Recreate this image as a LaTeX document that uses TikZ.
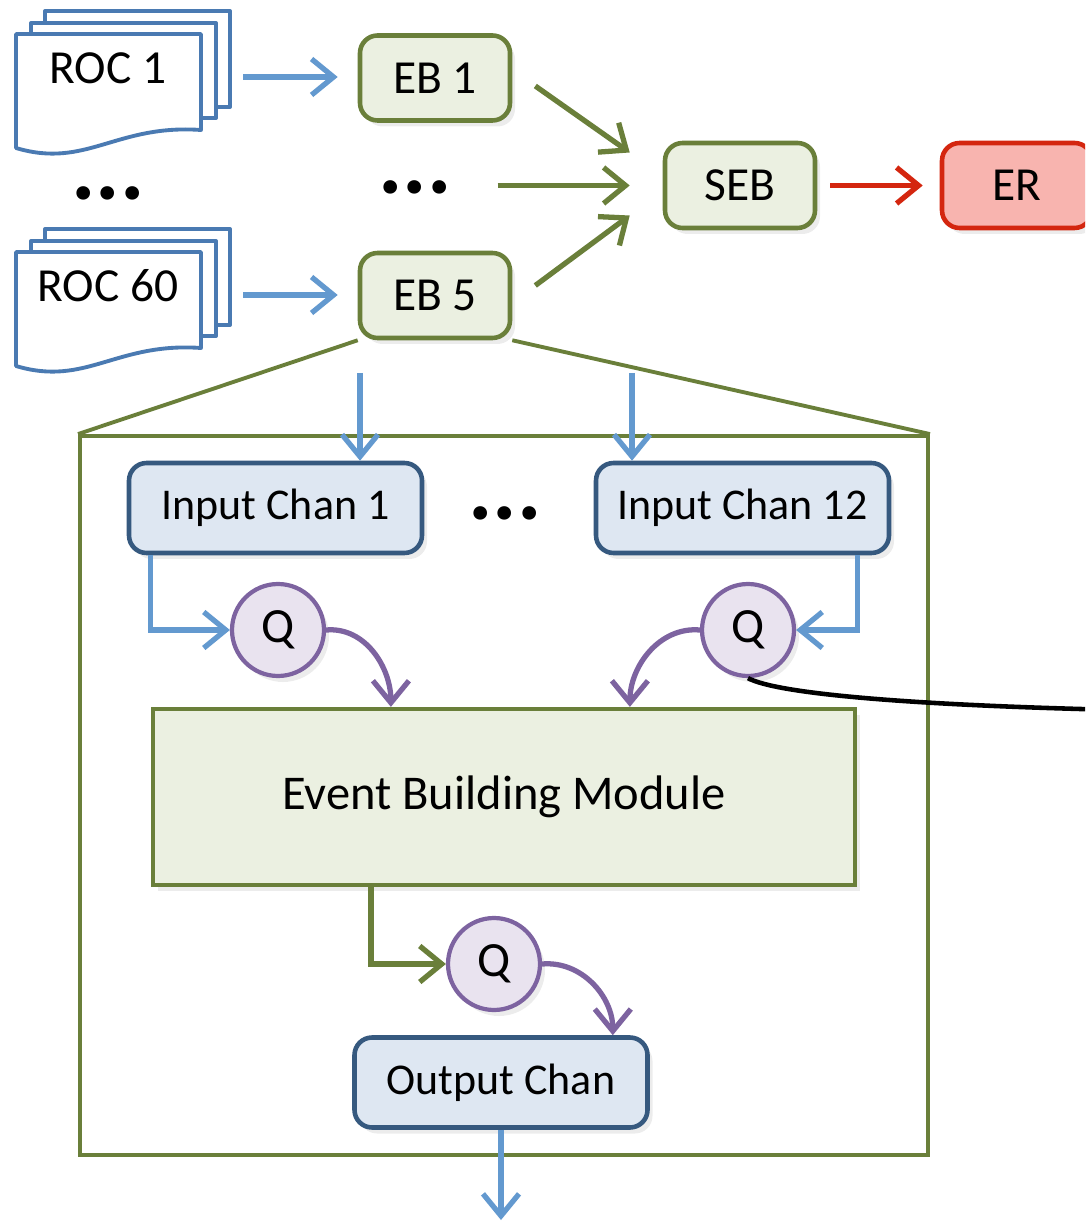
\documentclass[tikz,border=0pt]{standalone}
\usepackage{fontspec}
\setmainfont{Carlito}
\usepackage{tikz}
\usetikzlibrary{arrows.meta, positioning, calc, shadows}

\definecolor{rocblue}{HTML}{4A7AB2}
\definecolor{arrblue}{HTML}{6399CF}
\definecolor{ebgreen}{HTML}{6A7F3A}
\definecolor{ebfill}{HTML}{EBF0E1}
\definecolor{chanblue}{HTML}{36597F}
\definecolor{chanfill}{HTML}{DEE7F2}
\definecolor{qpurple}{HTML}{7D63A0}
\definecolor{qfill}{HTML}{E9E3EF}
\definecolor{erred}{HTML}{D4260F}
\definecolor{erfill}{HTML}{F8B4AF}

\tikzset{
  softshadow/.style={drop shadow={shadow xshift=0.5mm, shadow yshift=-0.6mm, opacity=0.15}},
  rocpage/.style={draw=rocblue, fill=white, line width=1.1pt, line join=round},
  roclabel/.style={font=\fontsize{13.5}{15}\selectfont},
  ebbox/.style={draw=ebgreen, fill=ebfill, line width=1.3pt, rounded corners=5pt,
    minimum width=1.5cm, minimum height=0.85cm, font=\fontsize{13.5}{15}\selectfont, softshadow},
  erbox/.style={ebbox, draw=erred, fill=erfill},
  chanbox/.style={draw=chanblue, fill=chanfill, line width=1.3pt, rounded corners=5pt,
    minimum width=2.93cm, minimum height=0.90cm, font=\fontsize{12.5}{14}\selectfont, softshadow},
  ebmbox/.style={draw=ebgreen, fill=ebfill, line width=1.2pt,
    minimum width=7.02cm, minimum height=1.76cm, font=\fontsize{13.8}{16}\selectfont, softshadow},
  queue/.style={circle, draw=qpurple, fill=qfill, line width=1.2pt, minimum size=0.92cm,
    inner sep=0pt, font=\fontsize{14}{15}\selectfont, softshadow},
  ebframebox/.style={draw=ebgreen, line width=1.1pt, minimum width=8.48cm, minimum height=7.19cm, inner sep=0pt},
  ebline/.style={draw=ebgreen, line width=1.1pt},
  dotstext/.style={font=\fontsize{26}{28}\selectfont\bfseries, inner sep=1pt},
}

% a stack of three ROC pages, label node #1
\newcommand{\rocstack}[3]{%
  \begin{scope}[shift={#2}]
    \draw[rocpage] (0.29,0.23) rectangle (2.14,-0.73);
    \draw[rocpage] (0.15,0.11) rectangle (2.00,-0.84);
    \draw[rocpage] (0,0) -- (1.85,0) -- (1.85,-0.96)
      .. controls (1.0,-0.90) and (0.7,-1.35) .. (0,-1.14) -- cycle;
    \node[roclabel] (#1) at (0.92,-0.34) {#3};
    \coordinate (#1-out) at (2.27,-0.43);
  \end{scope}}

\begin{document}
\begin{tikzpicture}[
    flow/.style={-{Straight Barb[length=2.2mm,width=3.6mm]}, line width=1.5pt},
  ]
    \useasboundingbox (0,0) rectangle (10.85,-12.22);
    \clip (0,0) rectangle (10.85,-12.22);

    % EB internals
    \node[ebframebox] (ebframe) at (5.04,-7.955) {};

    % ROCs
    \rocstack{roc1}{(0.16,-0.34)}{ROC 1}
    \rocstack{roc60}{(0.16,-2.52)}{ROC 60}
    \node[dotstext] (rocdots) at (1.08,-1.93) {...};

    % Event builders
    \node[ebbox] (eb1) at (4.35,-0.78) {EB 1};
    \node[dotstext] (ebdots) at (4.15,-1.87) {...};
    \node[ebbox] (eb5) at (4.35,-2.955) {EB 5};
    \node[ebbox] (seb) at (7.40,-1.855) {SEB};
    \node[erbox] (er) at (10.17,-1.855) {ER};

    \draw[flow, arrblue, shorten >=0.2cm] (roc1-out) -- (roc1-out -| eb1.west);
    \draw[flow, arrblue, shorten >=0.2cm] (roc60-out) -- (roc60-out -| eb5.west);
    \draw[flow, ebgreen] ($(eb1.east)+(0.23,-0.08)$) -- ($(seb.west)+(-0.33,0.33)$);
    \draw[flow, ebgreen] ($(seb.west)+(-1.65,0)$) -- ($(seb.west)+(-0.33,0)$);
    \draw[flow, ebgreen] ($(eb5.east)+(0.23,0.10)$) -- ($(seb.west)+(-0.33,-0.30)$);
    \draw[flow, erred, shorten <=0.13cm, shorten >=0.17cm] (seb) -- (er);

    % zoom into EB 5
    \draw[ebline] (eb5.south west) -- (ebframe.north west);
    \draw[ebline] (eb5.south east) -- (ebframe.north east);

    % Input channels
    \node[chanbox] (in1) at (2.755,-5.08) {Input Chan 1};
    \node[dotstext] (chandots) at (5.05,-5.13) {...};
    \node[chanbox] (in12) at (7.425,-5.08) {Input Chan 12};
    \coordinate (feed1) at (3.60,-3.73);
    \coordinate (feed12) at (6.32,-3.73);
    \draw[flow, arrblue] (feed1) -- (feed1 |- in1.north);
    \draw[flow, arrblue] (feed12) -- (feed12 |- in12.north);

    % Queues and building module
    \node[queue] (q1) at (2.78,-6.30) {Q};
    \node[queue] (q2) at (7.48,-6.30) {Q};
    \node[ebmbox] (ebm) at (5.04,-7.97) {Event Building Module};
    \draw[flow, arrblue] ($(in1.south west)+(0.24,0)$) |- (q1);
    \draw[flow, arrblue] ($(in12.south east)+(-0.34,0)$) |- (q2);
    \draw[flow, qpurple] (q1.east) to[out=5, in=90] ($(ebm.north west)+(2.40,0)$);
    \draw[flow, qpurple] (q2.west) to[out=175, in=90] ($(ebm.north west)+(4.79,0)$);

    % Output
    \node[queue] (q3) at (4.94,-9.64) {Q};
    \node[chanbox] (outch) at (5.01,-10.825) {Output Chan};
    \draw[flow, ebgreen] ($(ebm.south west)+(2.20,0)$) |- (q3);
    \draw[flow, qpurple] (q3.east) to[out=5, in=90] ($(outch.north east)+(-0.37,0)$);
    \coordinate (sink) at (5.01,-12.20);
    \draw[flow, arrblue] (outch.south) -- (sink);

    % link off the page
    \coordinate (offpage) at (11.2,-7.10);
    \draw[line width=1.3pt] (q2.south) .. controls (7.75,-6.93) and (9.0,-7.05) .. (offpage);
\end{tikzpicture}
\end{document}
